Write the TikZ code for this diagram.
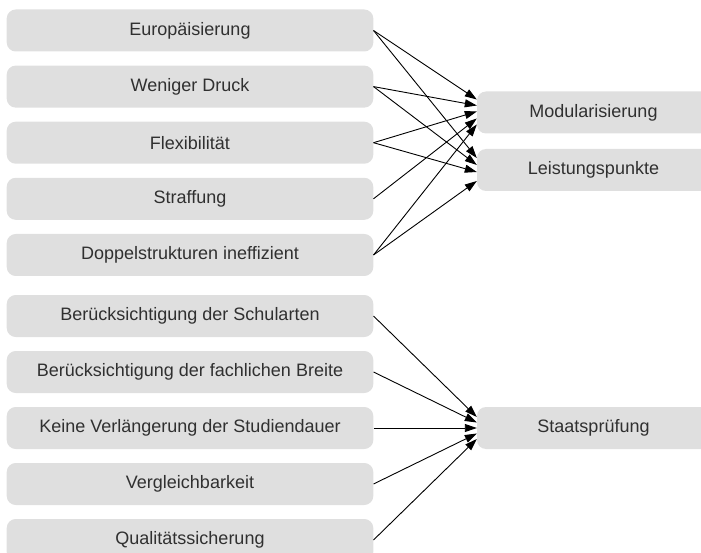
\documentclass[tikz,border=0pt]{standalone}
\usepackage{fontspec}
\setmainfont{Liberation Sans}
\usetikzlibrary{arrows.meta}
\definecolor{boxfill}{RGB}{223,223,223}
\definecolor{txt}{RGB}{48,48,48}
\begin{document}
\begin{tikzpicture}[x=1pt,y=-1pt,
  lbox/.style={fill=boxfill, rounded corners=9pt, minimum width=366.6pt, minimum height=42pt, inner sep=0pt, text=txt, font=\fontsize{18}{21}\selectfont},
  rbox/.style={lbox, minimum width=233pt},
  link/.style={-{Triangle[length=12pt,width=8pt]}, line width=0.9pt, black}]
\useasboundingbox (0,0) rectangle (701,553);
\clip (0,0) rectangle (701,553);
% left column
\node[lbox] (eu) at (190,30.5) {Europäisierung};
\node[lbox] (wd) at (190,86.6) {Weniger Druck};
\node[lbox] (fl) at (190,142.7) {Flexibilität};
\node[lbox] (st) at (190,198.8) {Straffung};
\node[lbox] (dp) at (190,255) {Doppelstrukturen ineffizient};
\node[lbox] (bs) at (190,316) {Berücksichtigung der Schularten};
\node[lbox] (bf) at (190,372) {Berücksichtigung der fachlichen Breite};
\node[lbox] (kv) at (190,428) {Keine Verlängerung der Studiendauer};
\node[lbox] (vg) at (190,484) {Vergleichbarkeit};
\node[lbox] (qs) at (190,540) {Qualitätssicherung};
% right column
\node[rbox] (mod) at (593.5,112.5) {Modularisierung};
\node[rbox] (lp) at (593.5,170) {Leistungspunkte};
\node[rbox] (sp) at (593.5,428) {Staatsprüfung};
% connectors to Modularisierung
\draw[link] (eu.east) -- ([yshift=13pt]mod.west);
\draw[link] (wd.east) -- ([yshift=7pt]mod.west);
\draw[link] (fl.east) -- ([yshift=1pt]mod.west);
\draw[link] (st.east) -- ([yshift=-6pt]mod.west);
\draw[link] (dp.east) -- ([yshift=-12pt]mod.west);
% connectors to Leistungspunkte
\draw[link] (eu.east) -- ([yshift=12pt]lp.west);
\draw[link] (wd.east) -- ([yshift=5pt]lp.west);
\draw[link] (fl.east) -- ([yshift=-2pt]lp.west);
\draw[link] (dp.east) -- ([yshift=-11pt]lp.west);
% connectors to Staatsprüfung
\draw[link] (bs.east) -- ([yshift=11pt]sp.west);
\draw[link] (bf.east) -- ([yshift=5.5pt]sp.west);
\draw[link] (kv.east) -- (sp.west);
\draw[link] (vg.east) -- ([yshift=-5.5pt]sp.west);
\draw[link] (qs.east) -- ([yshift=-11pt]sp.west);
\end{tikzpicture}
\end{document}
